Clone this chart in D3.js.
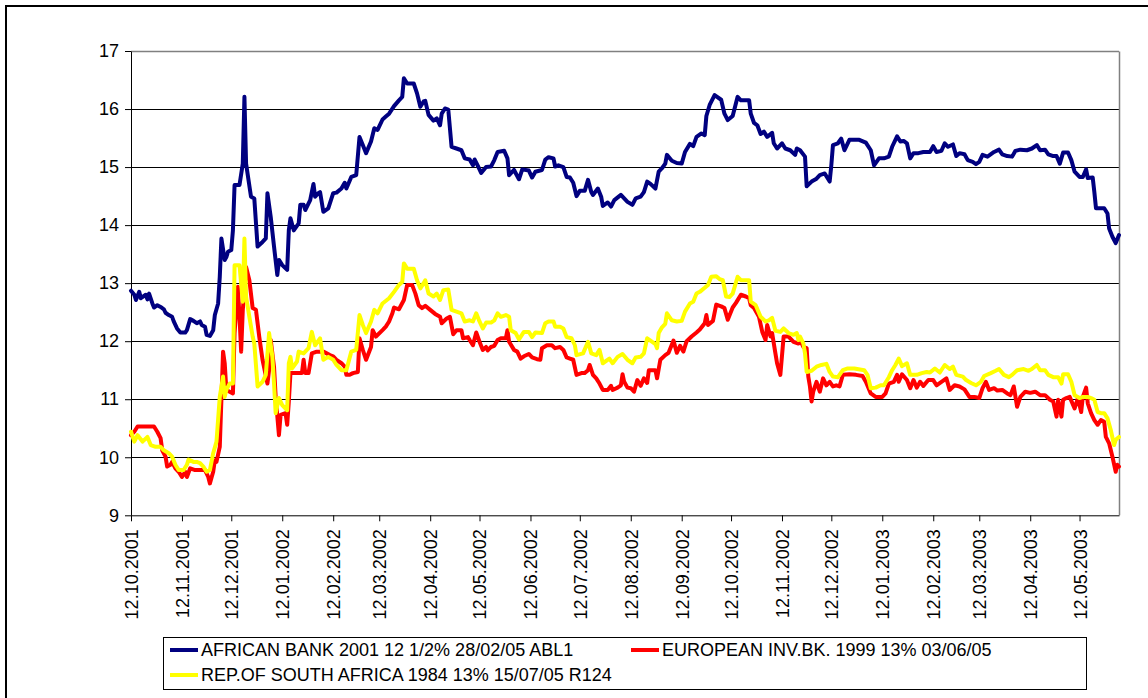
<!DOCTYPE html>
<html><head><meta charset="utf-8">
<script src="https://cdn.jsdelivr.net/npm/d3@7"></script>
<style>
body{margin:0;background:#fff}
svg{display:block}
text{font-family:"Liberation Sans",Arial,sans-serif;fill:#000}
</style>
</head><body>
<svg id="chart" width="1148" height="698"></svg>
<script>
// ---- data (day = days after 12.10.2001) ----
const startLabel = "12.10.2001";
const lastDay = 601;
const tickLabels = ["12.10.2001","12.11.2001","12.12.2001","12.01.2002","12.02.2002","12.03.2002","12.04.2002","12.05.2002","12.06.2002","12.07.2002","12.08.2002","12.09.2002","12.10.2002","12.11.2002","12.12.2002","12.01.2003","12.02.2003","12.03.2003","12.04.2003","12.05.2003"];
const yTicks = [9,10,11,12,13,14,15,16,17];
const seriesNames = ["AFRICAN BANK 2001 12 1/2% 28/02/05 ABL1","EUROPEAN INV.BK. 1999 13% 03/06/05","REP.OF SOUTH AFRICA 1984 13% 15/07/05 R124"];

const africanBank = [[0,12.87],[2,12.80],[3,12.71],[5,12.85],[6,12.74],[9,12.80],[10,12.72],[11,12.82],[13,12.65],[14,12.58],[16,12.62],[18,12.59],[20,12.55],[21,12.49],[23,12.45],[25,12.42],[26,12.34],[28,12.22],[30,12.15],[33,12.15],[34,12.19],[36,12.38],[38,12.35],[40,12.31],[42,12.34],[43,12.28],[45,12.25],[46,12.11],[48,12.09],[50,12.19],[51,12.45],[53,12.65],[54,13.11],[55,13.77],[57,13.40],[58,13.45],[59,13.54],[61,13.57],[62,13.91],[63,14.69],[66,14.69],[68,15.06],[69,16.21],[70,15.06],[73,14.49],[75,14.46],[77,13.63],[80,13.71],[82,13.77],[83,14.55],[85,14.14],[87,13.63],[89,13.14],[90,13.40],[92,13.31],[95,13.23],[96,13.91],[97,14.12],[99,13.91],[102,14.03],[103,14.35],[105,14.35],[106,14.26],[109,14.43],[111,14.71],[112,14.49],[114,14.55],[115,14.57],[117,14.23],[120,14.29],[123,14.55],[125,14.56],[128,14.63],[130,14.73],[131,14.63],[134,14.83],[137,14.86],[139,15.52],[141,15.38],[143,15.24],[146,15.44],[148,15.67],[150,15.64],[153,15.82],[155,15.87],[157,15.92],[160,16.05],[163,16.15],[165,16.21],[166,16.53],[168,16.44],[172,16.44],[174,16.27],[176,16.04],[178,16.13],[179,16.14],[181,15.90],[184,15.80],[186,15.84],[188,15.72],[189,15.92],[191,16.01],[193,15.99],[195,15.35],[198,15.32],[201,15.29],[203,15.15],[206,15.13],[208,15.03],[209,15.13],[211,15.02],[213,14.90],[216,15.00],[219,15.01],[221,15.12],[223,15.26],[227,15.28],[229,15.15],[230,14.86],[233,14.95],[236,14.79],[238,14.96],[242,14.94],[244,14.82],[246,14.92],[250,14.95],[252,15.13],[254,15.17],[257,15.15],[258,15.01],[260,15.03],[263,15.00],[265,14.83],[267,14.82],[269,14.73],[271,14.50],[273,14.59],[276,14.59],[278,14.78],[280,14.57],[281,14.52],[284,14.63],[286,14.49],[287,14.33],[290,14.39],[292,14.32],[294,14.43],[298,14.52],[302,14.40],[305,14.35],[307,14.46],[310,14.49],[312,14.57],[314,14.75],[316,14.71],[319,14.63],[321,14.92],[323,14.98],[325,15.06],[326,15.21],[329,15.11],[332,15.07],[335,15.06],[337,15.26],[340,15.40],[342,15.36],[344,15.52],[347,15.58],[349,15.55],[350,15.88],[352,16.07],[355,16.24],[359,16.16],[361,15.92],[363,15.81],[366,15.88],[369,16.21],[371,16.15],[376,16.15],[377,15.92],[379,15.76],[381,15.72],[383,15.57],[385,15.61],[387,15.52],[390,15.59],[391,15.41],[393,15.32],[396,15.41],[398,15.32],[401,15.29],[404,15.21],[405,15.32],[407,15.29],[410,15.18],[411,14.67],[414,14.75],[417,14.80],[419,14.86],[422,14.89],[425,14.75],[426,15.03],[427,15.38],[430,15.41],[432,15.49],[434,15.29],[437,15.47],[443,15.47],[447,15.42],[450,15.29],[452,15.03],[455,15.15],[458,15.15],[461,15.18],[463,15.35],[466,15.53],[468,15.44],[470,15.45],[472,15.41],[474,15.15],[476,15.24],[479,15.24],[482,15.26],[486,15.26],[488,15.36],[490,15.26],[493,15.28],[495,15.41],[497,15.35],[500,15.39],[502,15.19],[504,15.24],[507,15.22],[509,15.12],[512,15.09],[514,15.05],[516,15.09],[518,15.21],[521,15.18],[525,15.26],[528,15.30],[530,15.22],[533,15.19],[536,15.18],[538,15.28],[541,15.30],[545,15.29],[548,15.32],[551,15.38],[553,15.29],[556,15.30],[558,15.22],[561,15.19],[563,15.19],[565,15.06],[567,15.25],[570,15.25],[572,15.12],[574,14.92],[577,14.83],[579,14.83],[581,14.96],[582,14.81],[585,14.82],[586,14.57],[587,14.29],[590,14.29],[592,14.29],[594,14.20],[595,13.94],[597,13.80],[599,13.69],[601,13.83]];

const europeanInv = [[0,10.38],[2,10.44],[4,10.53],[7,10.53],[14,10.53],[16,10.44],[18,10.33],[19,10.12],[21,10.01],[22,9.84],[24,9.87],[25,9.92],[27,9.81],[29,9.75],[31,9.66],[33,9.75],[34,9.66],[36,9.81],[39,9.78],[45,9.78],[47,9.66],[48,9.55],[50,9.75],[51,9.95],[52,9.92],[54,10.18],[56,11.82],[57,11.62],[58,11.16],[60,11.13],[62,11.10],[63,12.14],[65,12.94],[66,12.42],[67,11.82],[68,12.54],[69,12.88],[70,13.28],[72,13.05],[74,12.57],[76,12.54],[78,12.08],[80,11.68],[83,11.27],[84,11.50],[85,12.02],[86,11.79],[87,11.56],[88,11.04],[90,10.38],[91,10.73],[94,10.76],[95,10.56],[96,10.96],[97,11.45],[104,11.45],[105,11.68],[106,11.45],[108,11.45],[110,11.79],[113,11.82],[117,11.82],[119,11.79],[121,11.76],[123,11.74],[125,11.68],[128,11.62],[130,11.56],[131,11.42],[133,11.42],[135,11.45],[138,11.47],[139,12.05],[141,11.85],[143,11.68],[146,11.90],[147,12.19],[149,12.08],[153,12.19],[155,12.25],[157,12.34],[159,12.48],[160,12.58],[163,12.55],[166,12.71],[168,12.97],[171,12.97],[173,12.82],[175,12.62],[177,12.57],[179,12.61],[182,12.54],[185,12.47],[188,12.42],[189,12.31],[192,12.39],[194,12.42],[196,12.12],[198,12.19],[201,12.19],[202,12.05],[205,12.07],[206,12.02],[208,11.93],[210,12.15],[212,11.99],[214,11.85],[216,11.90],[217,11.84],[219,11.90],[221,11.92],[223,12.02],[225,12.05],[228,12.05],[229,12.19],[230,11.99],[233,11.85],[235,11.82],[237,11.70],[239,11.74],[242,11.78],[244,11.72],[247,11.69],[249,11.68],[250,11.88],[253,11.93],[256,11.93],[258,11.88],[261,11.90],[263,11.85],[265,11.72],[267,11.70],[269,11.68],[271,11.42],[274,11.45],[276,11.45],[278,11.50],[279,11.59],[281,11.42],[283,11.36],[285,11.27],[287,11.16],[290,11.16],[292,11.23],[293,11.16],[296,11.20],[298,11.24],[299,11.43],[300,11.30],[302,11.20],[304,11.19],[306,11.13],[308,11.33],[310,11.23],[312,11.36],[314,11.28],[315,11.50],[319,11.50],[320,11.36],[322,11.68],[325,11.76],[327,11.80],[330,12.01],[332,11.80],[334,11.92],[336,11.82],[338,12.00],[341,12.08],[344,12.15],[346,12.20],[349,12.31],[350,12.45],[351,12.28],[354,12.35],[356,12.63],[359,12.60],[361,12.57],[363,12.37],[366,12.58],[368,12.66],[371,12.80],[374,12.77],[376,12.74],[377,12.62],[379,12.57],[382,12.42],[384,12.16],[386,12.02],[387,12.28],[389,12.08],[390,12.14],[392,11.79],[393,11.62],[395,11.42],[397,12.08],[400,12.08],[403,11.99],[406,11.96],[407,12.02],[409,11.90],[411,11.88],[412,11.39],[413,11.22],[414,10.96],[415,11.13],[417,11.30],[419,11.13],[421,11.36],[423,11.24],[425,11.30],[427,11.22],[429,11.24],[431,11.22],[433,11.42],[437,11.43],[441,11.42],[445,11.40],[447,11.30],[450,11.10],[453,11.04],[457,11.04],[459,11.10],[461,11.27],[464,11.30],[466,11.42],[467,11.30],[469,11.43],[472,11.33],[474,11.19],[476,11.33],[478,11.20],[480,11.30],[482,11.23],[485,11.33],[488,11.33],[490,11.24],[493,11.30],[496,11.36],[498,11.16],[501,11.24],[504,11.22],[507,11.17],[510,11.04],[513,11.04],[516,11.02],[518,11.19],[520,11.30],[522,11.16],[525,11.19],[527,11.15],[530,11.16],[533,11.10],[535,11.07],[537,11.22],[539,10.87],[541,11.04],[544,11.13],[547,11.11],[550,11.13],[553,11.07],[556,11.07],[559,10.99],[561,10.96],[563,10.70],[564,10.99],[566,10.70],[567,10.99],[569,11.02],[571,11.04],[574,10.84],[576,11.02],[578,10.78],[579,11.04],[581,11.20],[582,10.93],[584,10.76],[586,10.64],[588,10.56],[590,10.64],[592,10.61],[593,10.35],[595,10.24],[597,10.01],[599,9.75],[600,9.87],[601,9.84]];

const southAfrica = [[0,10.44],[2,10.27],[4,10.38],[7,10.27],[10,10.35],[12,10.21],[15,10.18],[18,10.18],[20,10.12],[23,10.07],[25,10.01],[27,9.87],[29,9.78],[32,9.78],[34,9.87],[35,9.96],[38,9.92],[40,9.92],[42,9.90],[44,9.84],[46,9.75],[48,9.78],[50,10.07],[52,10.27],[54,11.04],[56,11.39],[57,11.04],[58,11.16],[60,11.27],[62,11.27],[63,13.31],[66,13.31],[68,12.68],[69,13.77],[70,12.77],[72,12.42],[74,12.08],[75,11.96],[77,11.22],[80,11.30],[82,11.42],[84,12.14],[86,11.73],[87,11.27],[88,10.76],[90,11.02],[92,10.90],[95,10.81],[96,11.62],[97,11.73],[98,11.53],[101,11.65],[102,11.82],[105,11.79],[108,11.88],[110,12.16],[112,11.93],[115,12.05],[117,11.68],[120,11.73],[123,11.68],[125,11.59],[128,11.50],[131,11.50],[134,11.82],[137,11.85],[139,12.45],[141,12.28],[143,12.14],[146,12.34],[148,12.54],[150,12.48],[153,12.65],[157,12.74],[160,12.85],[163,12.97],[165,13.02],[166,13.34],[168,13.25],[172,13.25],[174,13.05],[176,12.91],[178,13.00],[179,13.05],[181,12.82],[184,12.77],[186,12.82],[188,12.71],[190,12.88],[193,12.89],[195,12.54],[198,12.51],[201,12.48],[203,12.34],[206,12.36],[208,12.34],[210,12.48],[212,12.34],[214,12.22],[216,12.32],[219,12.32],[221,12.36],[223,12.48],[225,12.42],[228,12.45],[230,12.42],[231,12.19],[234,12.14],[236,12.03],[239,12.16],[242,12.16],[244,12.07],[246,12.15],[250,12.14],[252,12.31],[254,12.34],[257,12.34],[258,12.25],[261,12.25],[263,12.22],[265,12.07],[268,12.05],[270,11.93],[271,11.76],[275,11.79],[278,11.99],[280,11.79],[283,11.76],[285,11.85],[287,11.62],[291,11.70],[293,11.62],[296,11.73],[299,11.78],[302,11.68],[305,11.62],[307,11.72],[310,11.73],[312,11.79],[314,12.05],[316,12.01],[319,11.95],[320,11.88],[321,12.14],[323,12.24],[325,12.30],[326,12.48],[329,12.36],[332,12.34],[335,12.35],[337,12.51],[340,12.65],[342,12.68],[344,12.82],[346,12.85],[349,12.92],[351,12.97],[353,13.11],[356,13.12],[358,13.07],[360,13.05],[362,12.77],[364,12.76],[366,12.82],[369,13.11],[371,13.05],[376,13.05],[377,12.68],[380,12.62],[383,12.42],[386,12.34],[388,12.36],[390,12.40],[392,12.18],[395,12.16],[397,12.22],[400,12.14],[403,12.11],[405,12.14],[406,12.02],[407,12.08],[409,11.96],[410,11.79],[411,11.47],[414,11.49],[417,11.56],[420,11.59],[423,11.61],[425,11.47],[427,11.39],[430,11.38],[433,11.50],[436,11.53],[440,11.53],[446,11.50],[448,11.42],[450,11.19],[453,11.20],[456,11.24],[458,11.24],[461,11.38],[463,11.50],[465,11.59],[467,11.70],[469,11.57],[472,11.62],[474,11.42],[478,11.42],[481,11.45],[484,11.47],[486,11.46],[489,11.53],[492,11.46],[495,11.59],[498,11.52],[500,11.56],[502,11.42],[506,11.39],[508,11.33],[511,11.28],[514,11.24],[517,11.30],[519,11.40],[523,11.45],[526,11.49],[528,11.52],[531,11.42],[534,11.38],[536,11.42],[539,11.50],[543,11.52],[546,11.49],[548,11.52],[551,11.59],[553,11.50],[556,11.50],[558,11.42],[561,11.38],[564,11.38],[566,11.27],[567,11.43],[570,11.43],[572,11.30],[574,11.07],[577,11.02],[579,11.04],[582,11.04],[584,11.02],[586,10.99],[588,10.78],[590,10.76],[592,10.76],[594,10.67],[596,10.47],[598,10.21],[599,10.30],[601,10.35]];

// ---- drawing ----
const svg = d3.select("#chart");
const parse = d3.timeParse("%d.%m.%Y");
const fmt = d3.timeFormat("%d.%m.%Y");
const start = parse(startLabel);
const toDate = d => d3.timeDay.offset(start, d);

const L = 131, R = 1119, T = 51, B = 515.3;
const x = d3.scaleTime().domain([start, toDate(lastDay)]).range([L, R]);
const y = d3.scaleLinear().domain([d3.min(yTicks), d3.max(yTicks)]).range([B, T]);

// outer chart border
svg.append("rect").attr("x", 6).attr("y", 6).attr("width", 1300).attr("height", 900)
  .attr("fill", "#fff").attr("stroke", "#000").attr("stroke-width", 2);

// gridlines
svg.append("g").selectAll("line").data(yTicks.slice(1)).join("line")
  .attr("x1", L).attr("x2", R)
  .attr("y1", d => Math.round(y(d)) + 0.5).attr("y2", d => Math.round(y(d)) + 0.5)
  .attr("stroke", "#000").attr("stroke-width", 1);

// plot frame (right/top grey)
svg.append("line").attr("x1", R + 0.5).attr("x2", R + 0.5).attr("y1", Math.round(T) + 0.5).attr("y2", B)
  .attr("stroke", "#808080").attr("stroke-width", 1.5);
svg.append("line").attr("x1", L).attr("x2", R).attr("y1", Math.round(T) + 0.5).attr("y2", Math.round(T) + 0.5)
  .attr("stroke", "#808080").attr("stroke-width", 1.5);

// axes
const yAxis = svg.append("g").attr("transform", `translate(${L},0)`)
  .call(d3.axisLeft(y).tickValues(yTicks).tickFormat(d3.format("d")).tickSize(6).tickPadding(6).tickSizeOuter(0));
yAxis.select(".domain").attr("stroke", "#000");
yAxis.selectAll("text").attr("font-size", 18).attr("font-family", "'Liberation Sans', Arial, sans-serif").attr("fill", "#000");

const tickDates = tickLabels.map(parse);
const xAxis = svg.append("g").attr("transform", `translate(0,${B})`)
  .call(d3.axisBottom(x).tickValues(tickDates).tickFormat(fmt).tickSize(6).tickSizeOuter(0));
xAxis.select(".domain").attr("stroke", "#000");
xAxis.selectAll("text")
  .attr("font-size", 18).attr("font-family", "'Liberation Sans', Arial, sans-serif").attr("fill", "#000")
  .attr("transform", "rotate(-90)").attr("text-anchor", "end")
  .attr("x", -14).attr("y", 0).attr("dy", "0.36em");

// series
const series = [
  {name: seriesNames[0], data: africanBank, color: "#000080"},
  {name: seriesNames[1], data: europeanInv, color: "#FF0000"},
  {name: seriesNames[2], data: southAfrica, color: "#FFFF00"}
];
const line = d3.line().x(d => x(toDate(d[0]))).y(d => y(d[1]));
svg.append("g").selectAll("path").data(series).join("path")
  .attr("d", s => line(s.data))
  .attr("fill", "none").attr("stroke", s => s.color)
  .attr("stroke-width", 4).attr("stroke-linejoin", "round").attr("stroke-linecap", "round");

// legend
const lg = svg.append("g");
lg.append("rect").attr("x", 163.5).attr("y", 637.5).attr("width", 923).attr("height", 52)
  .attr("fill", "#fff").attr("stroke", "#000").attr("stroke-width", 1);
const legendPos = [{lx: 170, ty: 650}, {lx: 631, ty: 650}, {lx: 170, ty: 675}];
series.forEach((s, i) => {
  const p = legendPos[i];
  lg.append("line").attr("x1", p.lx).attr("x2", p.lx + 28).attr("y1", p.ty).attr("y2", p.ty)
    .attr("stroke", s.color).attr("stroke-width", 4);
  lg.append("text").attr("x", p.lx + 31).attr("y", p.ty).attr("dy", "0.36em")
    .attr("font-size", 18).text(s.name);
});
</script>
</body></html>
